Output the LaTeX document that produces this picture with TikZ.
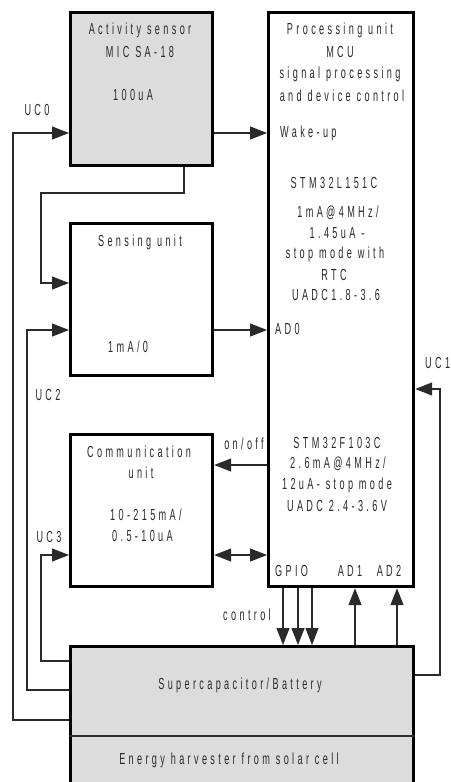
\documentclass[tikz,border=0pt]{standalone}
\usepackage{fontspec}
\setmainfont{Liberation Sans}[FakeStretch=0.57, LetterSpace=21]
\usetikzlibrary{arrows.meta}
\definecolor{boxgray}{HTML}{DCDCDC}
\definecolor{ink}{HTML}{2A2A2A}
\tikzset{
  blk/.style={draw=black, line width=3.2pt, anchor=north west, inner sep=0pt},
  grayblk/.style={blk, fill=boxgray},
  wire/.style={draw=ink, line width=1.2pt},
  arr/.style={wire, -{Triangle[length=17pt,width=13pt]}},
  darr/.style={wire, {Triangle[length=17pt,width=13pt]}-{Triangle[length=17pt,width=13pt]}},
  txt/.style={inner sep=0pt, text=ink, font=\fontsize{16}{18}\selectfont},
  ltxt/.style={txt, anchor=west},
}
\begin{document}
\begin{tikzpicture}[x=1pt, y=-1pt]
\useasboundingbox (0,0) rectangle (450,782);

% blocks
\node[grayblk, minimum width=142pt, minimum height=153pt] (act) at (69,11) {};
\node[blk, fill=white, minimum width=145pt, minimum height=574pt] (proc) at (267,11) {};
\node[blk, fill=white, minimum width=142pt, minimum height=152pt] (sen) at (69,222) {};
\node[blk, fill=white, minimum width=142pt, minimum height=152pt] (com) at (69,433) {};
\node[grayblk, minimum width=343pt, minimum height=160pt] (sup) at (69,645) {};
\draw[wire] (sup.west |- 0,736) -- (sup.east |- 0,736);

% activity sensor text
\node[txt] (a1) at (140,30) {Activity sensor};
\node[txt] (a2) at (140,52) {MIC SA-18};
\node[ltxt] (a3) at (113,95) {100uA};

% sensing unit text
\node[txt] (s1) at (140,242) {Sensing unit};
\node[ltxt] (s2) at (108,347) {1mA/0};

% communication unit text
\node[txt] (c1) at (139,452) {Communication};
\node[txt] (c2) at (141,473) {unit};
\node[ltxt] (c3) at (110,515) {10-215mA/};
\node[ltxt] (c4) at (112,536) {0.5-10uA};

% processing unit text
\node[txt] (p1) at (340,30) {Processing unit};
\node[txt] (p2) at (340,52) {MCU};
\node[txt] (p3) at (340,74) {signal processing};
\node[txt] (p4) at (342,96) {and device control};
\node[ltxt] (p5) at (280,133) {Wake-up};
\node[txt] (p6) at (334,183) {STM32L151C};
\node[txt] (p7) at (338,213) {1mA@4MHz/};
\node[txt] (p8) at (337,233) {1.45uA -};
\node[txt] (p9) at (335,254) {stop mode with};
\node[txt] (p10) at (334,275) {RTC};
\node[txt] (p11) at (336,295) {UADC1.8-3.6};
\node[ltxt] (p12) at (275,329) {AD0};
\node[txt] (p13) at (337,443) {STM32F103C};
\node[txt] (p14) at (338,464) {2.6mA@4MHz/};
\node[txt] (p15) at (337,485) {12uA- stop mode};
\node[txt] (p16) at (337,506) {UADC 2.4-3.6V};
\node[ltxt] (p17) at (275,571) {GPIO};
\node[txt] (p18) at (350,571) {AD1};
\node[txt] (p19) at (389,571) {AD2};

% supercap text
\node[txt] (b1) at (240,685) {Supercapacitor/Battery};
\node[txt] (b2) at (229,760) {Energy harvester from  solar cell};

% labels
\node[txt] (l0) at (37,110) {UC0};
\node[txt] (l2) at (48,395) {UC2};
\node[txt] (l3) at (49,537) {UC3};
\node[ltxt] (l1) at (425,363) {UC1};
\node[txt] (lo) at (244,444) {on/off};
\node[txt] (lc) at (247,615) {control};

% connectors
\draw[arr] (sup.west |- 0,720) -- (13,720) -- (13,133) -- (act.west |- 0,133);
\draw[arr] (act.east |- 0,133) -- (proc.west |- 0,133);
\draw[arr] (act.south -| 184,0) -- (184,193) -- (41,193) -- (41,283) -- (sen.west |- 0,283);
\draw[arr] (sup.west |- 0,690) -- (27,690) -- (27,330) -- (sen.west |- 0,330);
\draw[arr] (sen.east |- 0,330) -- (proc.west |- 0,330);
\draw[arr] (sup.west |- 0,661) -- (41,661) -- (41,555) -- (com.west |- 0,555);
\draw[arr] (proc.west |- 0,465) -- (com.east |- 0,465);
\draw[darr] (com.east |- 0,555) -- (proc.west |- 0,555);
\foreach \xx in {283,298,312}
  \draw[arr] (proc.south -| \xx,0) -- (sup.north -| \xx,0);
\draw[arr] (sup.north -| 355,0) -- (proc.south -| 355,0);
\draw[arr] (sup.north -| 397,0) -- (proc.south -| 397,0);
\draw[arr] (sup.east |- 0,675) -- (440,675) -- (440,389) -- (proc.east |- 0,389);
\end{tikzpicture}
\end{document}
